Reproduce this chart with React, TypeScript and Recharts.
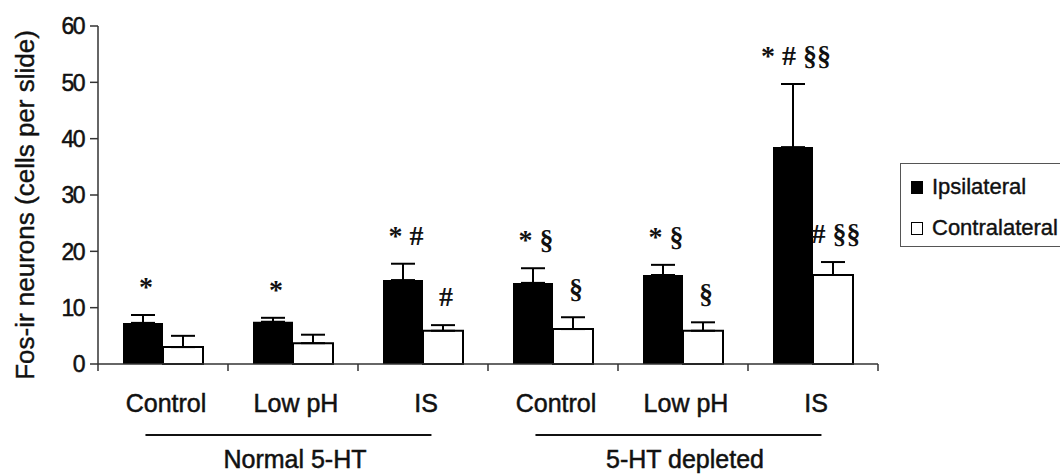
import { BarChart, Bar, XAxis, YAxis, ErrorBar, LabelList, Legend } from "recharts"

const categories = ["Control", "Low pH", "IS", "Control", "Low pH", "IS"]
const groups = ["Normal 5-HT", "5-HT depleted"]
const ipsilateral = [7.3, 7.5, 14.9, 14.4, 15.8, 38.5]
const ipsilateralSem = [1.4, 0.7, 2.9, 2.6, 1.8, 11.2]
const contralateral = [3.0, 3.7, 5.9, 6.2, 5.9, 15.8]
const contralateralSem = [2.0, 1.5, 1.0, 2.1, 1.5, 2.3]
const ipsiMarks = ["*", "*", "* #", "* §", "* §", "* # §§"]
const contraMarks = ["", "", "#", "§", "§", "# §§"]
const yTicks = [0, 10, 20, 30, 40, 50, 60]
const seriesOrder = ["ipsi", "contra"]

const data = categories.map((name, i) => ({
  key: String(i),
  idx: i,
  name,
  ipsi: ipsilateral[i],
  ipsiErr: [0, ipsilateralSem[i]],
  contra: contralateral[i],
  contraErr: [0, contralateralSem[i]],
}))

const SANS = "'Liberation Sans', Arial, sans-serif"
const SERIF = "'Liberation Serif', 'Times New Roman', serif"
const INK = "#111"

// significance marks sit a fixed distance above the error bar cap
const markLabel = (marks: string[], means: number[], sems: number[]) => (p: any) => {
  const i = Number(p.value)
  const text = marks[i]
  if (!text) return null
  const vb = p.viewBox ?? p
  const perUnit = vb.height / means[i]
  const errTop = vb.y - sems[i] * perUnit
  return (
    <text x={vb.x + vb.width / 2 + 3} y={errTop - 19} textAnchor="middle"
      fontFamily={SERIF} fontWeight="bold" fontSize={28} fill={INK}>
      {text}
    </text>
  )
}

const CategoryTick = (p: any) => {
  const { x, y, payload, index, visibleTicksCount } = p
  const i = Number(payload?.index ?? index)
  const half = payload?.offset > 1 ? payload.offset : p.width / visibleTicksCount / 2
  const last = i === categories.length - 1
  const g = i === 1 ? 0 : i === 4 ? 1 : -1
  return (
    <g fontFamily={SANS} fontSize={25} fill={INK} stroke={INK} strokeWidth={0.5}>
      <line x1={x - half} x2={x - half} y1={y} y2={y + 7} stroke="#333" strokeWidth={1.5} />
      {last && <line x1={x + half} x2={x + half} y1={y} y2={y + 7} stroke="#333" strokeWidth={1.5} />}
      <text x={x + 3} y={y + 48} textAnchor="middle">
        {categories[i]}
      </text>
      {g >= 0 && (
        <g>
          <line x1={x - half * 2.27} x2={x + half * 2.13} y1={y + 71} y2={y + 71} stroke={INK} strokeWidth={2} />
          <text x={x + 2} y={y + 104} textAnchor="middle">
            {groups[g]}
          </text>
        </g>
      )}
    </g>
  )
}

const ValueTick = (p: any) => (
  <text x={p.x} y={p.y} dy="0.36em" textAnchor="end" fontFamily={SANS} fontSize={23}
    letterSpacing={-1.5} fill={INK} stroke={INK} strokeWidth={0.5}>
    {p.payload.value}
  </text>
)

const yLabel = (p: any) => {
  const vb = p.viewBox ?? { x: 0, y: 26, height: 338 }
  const cx = vb.x + 25
  const cy = vb.y + vb.height / 2 + 10
  return (
    <text x={cx} y={cy} transform={`rotate(-90 ${cx} ${cy})`} textAnchor="middle"
      dominantBaseline="central" fontFamily={SANS} fontSize={26} fill={INK} stroke={INK} strokeWidth={0.4}>
      Fos-ir neurons (cells per slide)
    </text>
  )
}

const renderLegend = (p: any) => {
  const items = [...(p.payload || [])].sort(
    (a: any, b: any) => seriesOrder.indexOf(a.dataKey) - seriesOrder.indexOf(b.dataKey))
  return (
    <div style={{
      width: 200, height: 84, border: "1px solid #555", boxSizing: "border-box",
      position: "relative", fontFamily: SANS, fontSize: 22, color: INK, background: "#fff",
      WebkitTextStroke: "0.4px #111",
    }}>
      {items.map((e: any, i: number) => (
        <div key={i} style={{
          position: "absolute", left: 10, top: i === 0 ? 12 : 53, height: 22,
          display: "flex", alignItems: "center", whiteSpace: "nowrap",
        }}>
          <span style={{
            display: "inline-block", width: 12, height: 13, marginRight: 9,
            background: e.color, border: "1.5px solid #000", boxSizing: "border-box",
          }} />
          <span>{e.value}</span>
        </div>
      ))}
    </div>
  )
}

export default function App() {
  return (
    <div style={{ position: "absolute", left: 0, top: 0, width: 1060, height: 475, overflow: "hidden", background: "#fff" }}>
      <BarChart width={1060} height={475} data={data} barSize={40} barGap={0}
        margin={{ top: 26, right: 182, bottom: 0, left: 0 }}>
        <XAxis dataKey="key" height={111} tickLine={false} tickSize={0} tickMargin={0}
          axisLine={{ stroke: "#333", strokeWidth: 1.5 }} tick={<CategoryTick />} interval={0} />
        <YAxis width={98} domain={[0, 60]} ticks={yTicks} interval={0} tickSize={8} tickMargin={6}
          axisLine={{ stroke: "#333", strokeWidth: 1.5 }} tickLine={{ stroke: "#333", strokeWidth: 1.5 }}
          tick={<ValueTick />} label={{ content: yLabel }} />
        <Legend layout="vertical" align="center" verticalAlign="middle" content={renderLegend}
          wrapperStyle={{ left: 900, top: 163, width: 200, height: 84 }} />
        <Bar dataKey="ipsi" name="Ipsilateral" fill="#000" isAnimationActive={false}>
          <ErrorBar dataKey="ipsiErr" direction="y" width={12} stroke="#000" strokeWidth={2} />
          <LabelList dataKey="idx" content={markLabel(ipsiMarks, ipsilateral, ipsilateralSem)} />
        </Bar>
        <Bar dataKey="contra" name="Contralateral" fill="#fff" stroke="#000" strokeWidth={2} isAnimationActive={false}>
          <ErrorBar dataKey="contraErr" direction="y" width={12} stroke="#000" strokeWidth={2} />
          <LabelList dataKey="idx" content={markLabel(contraMarks, contralateral, contralateralSem)} />
        </Bar>
      </BarChart>
    </div>
  )
}
